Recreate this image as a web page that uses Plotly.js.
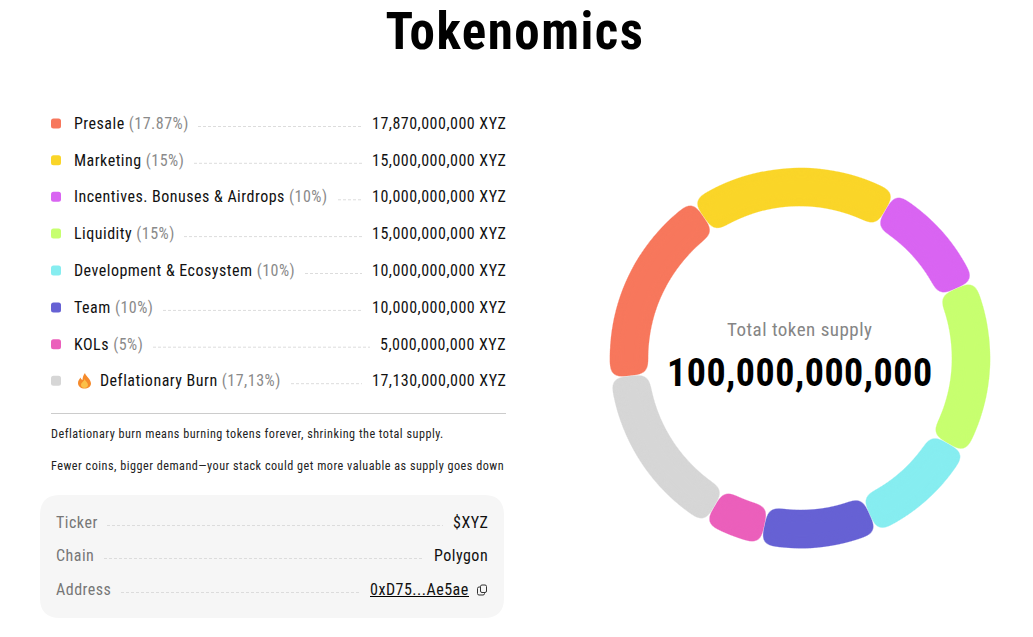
<!DOCTYPE html>
<html><head><meta charset="utf-8">
<script src="https://cdn.plot.ly/plotly-3.0.1.min.js"></script>
<style>
html,body{margin:0;padding:0;background:#fff;overflow:hidden}
#chart{width:1033px;height:637px}
.slice path.surface{filter:url(#roundCorners)}
text.annotation-text{font-stretch:75%;letter-spacing:.49px}
.gtitle{letter-spacing:1.5px;font-stretch:75%}
</style></head><body>
<svg width="0" height="0" style="position:absolute"><defs>
<filter id="roundCorners" x="-12%" y="-12%" width="124%" height="124%" color-interpolation-filters="sRGB">
<feGaussianBlur in="SourceGraphic" stdDeviation="6.2"/>
<feComponentTransfer><feFuncA type="linear" slope="14" intercept="-6.6"/></feComponentTransfer>
</filter></defs></svg>
<div id="chart"></div>
<script>
const categories=["Presale","Marketing","Incentives. Bonuses & Airdrops","Liquidity","Development & Ecosystem","Team","KOLs","Deflationary Burn"];
const percentLabels=["17.87%","15%","10%","15%","10%","10%","5%","17,13%"];
const amountLabels=["17,870,000,000 XYZ","15,000,000,000 XYZ","10,000,000,000 XYZ","15,000,000,000 XYZ","10,000,000,000 XYZ","10,000,000,000 XYZ","5,000,000,000 XYZ","17,130,000,000 XYZ"];
const sliceShares=[17.13,17.87,10,15,10,10,5,15];
const colors=["#F7775C","#FAD528","#D964F2","#C7FF6F","#86EDF0","#6661D4","#EB5FBB","#D6D6D6"];
const infoLabels=["Ticker","Chain","Address"];
const infoValues=["$XYZ","Polygon","0xD75...Ae5ae"];

const W=1033,H=637;
const X=v=>v/W, Y=v=>1-v/H;
const rowY=[123.5,160.3,196.8,233.6,270.5,307.4,344.2,380.7];
const leaderFrom=[198,194,338,184,305,163,153,291];
const leaderTo=[362,362,362,362,362,362,370,362];
const infoY=[522,555.5,589], infoLeaderY=[525.5,558.5,592.5], infoFrom=[107,104,121], infoTo=[443,424,360], infoRight=[488,488,469];

const toPaper=d=>d.replace(/(-?[\d.]+),(-?[\d.]+)/g,(m,a,b)=>`${X(+a)},${Y(+b)}`);
function rr(x,y,w,h,r,fill,layer,line){
  const p=`M${X(x+r)},${Y(y)}L${X(x+w-r)},${Y(y)}Q${X(x+w)},${Y(y)} ${X(x+w)},${Y(y+r)}L${X(x+w)},${Y(y+h-r)}Q${X(x+w)},${Y(y+h)} ${X(x+w-r)},${Y(y+h)}L${X(x+r)},${Y(y+h)}Q${X(x)},${Y(y+h)} ${X(x)},${Y(y+h-r)}L${X(x)},${Y(y+r)}Q${X(x)},${Y(y)} ${X(x+r)},${Y(y)}Z`;
  return {type:'path',xref:'paper',yref:'paper',path:p,fillcolor:fill,layer:layer||'above',line:line||{width:0}};
}
const dash=(x0,x1,y)=>({type:'line',xref:'paper',yref:'paper',x0:X(x0),x1:X(x1),y0:Y(y),y1:Y(y),line:{color:'#dcdcdc',width:1,dash:'3px,2px'}});
const rule=(x0,x1,y,c)=>({type:'line',xref:'paper',yref:'paper',x0:X(x0),x1:X(x1),y0:Y(y),y1:Y(y),line:{color:c,width:1}});
const flame=(d,c)=>({type:'path',xref:'paper',yref:'paper',path:toPaper(d),fillcolor:c,line:{width:0}});

const shapes=[rr(40,495,464,123,20,'#F6F6F6','below')];
categories.forEach((c,i)=>{
  shapes.push(rr(51,rowY[i]-5,10,10,2.5,colors[i]));
  shapes.push(dash(leaderFrom[i],leaderTo[i],rowY[i]+3));
});
shapes.push(rule(51,506,413.5,'#cccccc'));
infoLabels.forEach((c,i)=>shapes.push(dash(infoFrom[i],infoTo[i],infoLeaderY[i])));
shapes.push(rule(370,469,596.5,'#000000'));
shapes.push(flame("M85,373 C85.5,376 91,379 91,383.5 C91,386.5 88,388.5 84.500,388.5 C81,388.5 78,386.5 78,383 C78,380.500 79.500,379 80.500,377.500 C81,379 81.500,379.500 82.500,380 C82.500,377.500 83.500,375 85,373 Z","#F58A2B"));
shapes.push(flame("M84.700,379 C85,381 88,382.500 88,385 C88,387 86.300,388 84.500,388 C82.700,388 81,387 81,385 C81,382.500 84,381.500 84.700,379 Z","#FBC04A"));
shapes.push(rr(477.500,587,7,8,1.5,'rgba(0,0,0,0)','above',{color:'#333',width:1}));
shapes.push(rr(480.500,585,6,7.500,1.5,'#F6F6F6','above',{color:'#333',width:1}));

const ann=(x,y,text,anchor,size,color,extra)=>Object.assign({xref:'paper',yref:'paper',x:X(x),y:Y(y),text,xanchor:anchor,yanchor:'middle',showarrow:false,borderpad:0,borderwidth:0,font:{family:'Roboto',size,color}},extra||{});
const annotations=[];
categories.forEach((c,i)=>{
  const tx=i===7?100:74;
  annotations.push(ann(tx,rowY[i],`${c.replace('&','&amp;')} <span style="color:#8a8a8a">(${percentLabels[i]})</span>`,'left',16,'#111'));
  annotations.push(ann(505.5,rowY[i],amountLabels[i],'right',16,'#111'));
});
annotations.push(ann(51,434,"Deflationary burn means burning tokens forever, shrinking the total supply.",'left',12.2,'#222'));
annotations.push(ann(51,466,"Fewer coins, bigger demand—your stack could get more valuable as supply goes down",'left',12.2,'#222'));
infoLabels.forEach((l,i)=>{
  annotations.push(ann(56,infoY[i],l,'left',16,'#777'));
  annotations.push(ann(infoRight[i]-0.5,infoY[i],infoValues[i],'right',16,'#111'));
});
annotations.push(ann(799.5,330,"Total token supply",'center',19,'#858585'));
annotations.push(ann(800,373,"100,000,000,000",'center',38,'#000',{font:{family:'Roboto',size:38,color:'#000',weight:700}}));

const cx=800,cy=358,R=190.5;
Plotly.newPlot('chart',[{
  type:'pie',values:sliceShares,labels:categories,sort:false,direction:'clockwise',rotation:264,hole:0.797,
  textinfo:'none',hoverinfo:'skip',showlegend:false,
  marker:{colors:colors,line:{width:0}},
  domain:{x:[X(cx-R),X(cx+R)],y:[Y(cy+R),Y(cy-R)]}
}],{
  width:W,height:H,margin:{l:0,r:0,t:0,b:0},paper_bgcolor:'#fff',plot_bgcolor:'#fff',showlegend:false,
  title:{text:'<b>Tokenomics</b>',x:X(515),xanchor:'center',y:Y(31),yanchor:'middle',font:{family:'Roboto',size:51,color:'#000',weight:900}},
  shapes,annotations
},{displayModeBar:false,staticPlot:true});
</script></body></html>
